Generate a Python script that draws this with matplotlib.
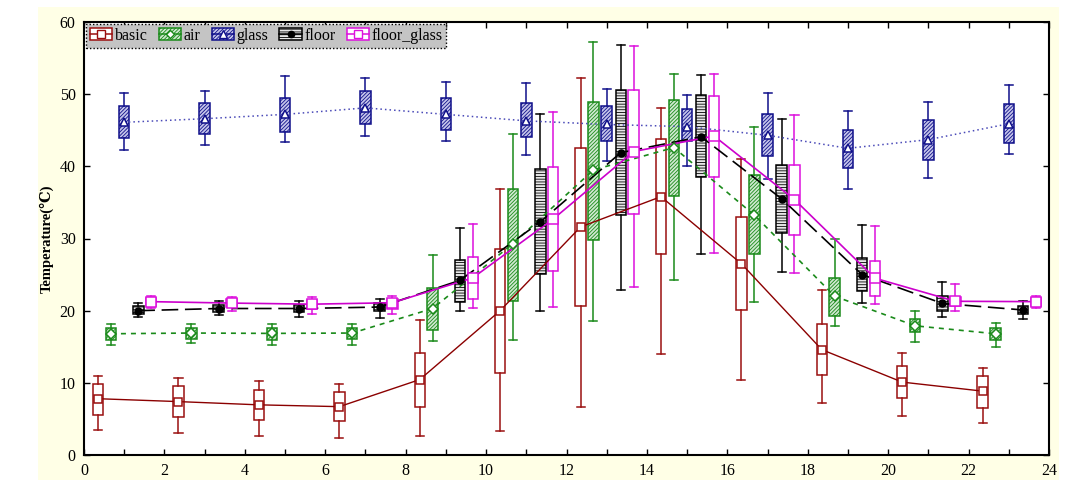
import matplotlib
matplotlib.use("Agg")
import matplotlib.pyplot as plt
from matplotlib.patches import Rectangle, Patch
from matplotlib.lines import Line2D
from matplotlib.legend_handler import HandlerTuple
from matplotlib.ticker import MultipleLocator
import numpy as np

plt.rcParams["hatch.linewidth"] = 0.6

hours = [0, 2, 4, 6, 8, 10, 12, 14, 16, 18, 20, 22]
series_names = ["basic", "air", "glass", "floor", "floor_glass"]

basic_mean = [7.8, 7.4, 6.95, 6.7, 10.45, 20.0, 31.6, 35.8, 26.5, 14.6, 10.1, 8.85]
basic_q3 = [9.8, 9.5, 9.0, 8.75, 14.2, 28.5, 42.5, 43.8, 32.95, 18.2, 12.35, 10.9]
basic_q1 = [5.5, 5.25, 4.9, 4.75, 6.7, 11.3, 20.7, 27.8, 20.1, 11.1, 7.9, 6.45]
basic_hi = [10.9, 10.7, 10.2, 9.9, 18.7, 36.9, 52.2, 48.1, 41.0, 22.8, 14.2, 12.0]
basic_lo = [3.4, 3.0, 2.6, 2.3, 2.6, 3.3, 6.6, 14.0, 10.4, 7.2, 5.35, 4.5]

air_mean = [16.8, 16.9, 16.85, 16.9, 20.3, 29.3, 39.5, 42.6, 33.25, 22.0, 17.9, 16.8]
air_q3 = [17.55, 17.6, 17.6, 17.6, 23.1, 36.8, 48.9, 49.25, 38.8, 24.5, 18.85, 17.65]
air_q1 = [16.0, 16.1, 16.0, 16.1, 17.3, 21.3, 29.8, 35.9, 27.9, 19.2, 17.0, 15.9]
air_hi = [18.15, 18.2, 18.2, 18.2, 27.7, 44.45, 57.2, 52.75, 45.4, 30.0, 19.95, 18.35]
air_lo = [15.3, 15.5, 15.3, 15.2, 15.8, 15.9, 18.6, 24.3, 21.2, 17.9, 15.6, 14.9]

glass_mean = [46.1, 46.6, 47.2, 48.1, 47.2, 46.3, 45.8, 45.5, 44.3, 42.5, 43.7, 45.9]
glass_q3 = [48.3, 48.75, 49.4, 50.4, 49.4, 48.8, 48.3, 47.9, 47.2, 45.1, 46.4, 48.7]
glass_q1 = [43.9, 44.45, 44.8, 45.9, 45.0, 44.0, 43.5, 43.5, 41.5, 39.7, 40.9, 43.2]
glass_hi = [50.1, 50.45, 52.5, 52.3, 51.65, 51.55, 50.7, 49.9, 50.2, 47.6, 48.9, 51.3]
glass_lo = [42.2, 43.0, 43.4, 44.2, 43.5, 41.6, 40.8, 40.0, 38.3, 36.9, 38.4, 41.7]

floor_mean = [20.0, 20.3, 20.3, 20.5, 24.2, 32.3, 41.9, 44.1, 35.5, 25.0, 21.0, 20.1]
floor_q3 = [20.6, 20.8, 20.8, 21.0, 27.0, 39.6, 50.55, 49.85, 40.2, 27.3, 22.0, 20.65]
floor_q1 = [19.6, 19.8, 19.8, 19.95, 21.2, 25.05, 33.2, 38.5, 30.7, 22.7, 19.95, 19.5]
floor_hi = [21.05, 21.3, 21.3, 21.65, 31.4, 47.3, 56.8, 52.7, 46.5, 31.9, 23.95, 21.4]
floor_lo = [19.1, 19.4, 19.1, 19.0, 19.9, 20.0, 22.85, 27.9, 25.4, 21.1, 19.1, 18.8]

fg_mean = [21.25, 21.05, 20.9, 21.1, 24.55, 32.7, 42.05, 44.2, 35.4, 24.5, 21.3, 21.25]
fg_q3 = [21.8, 21.6, 21.5, 21.6, 27.4, 39.95, 50.55, 49.8, 40.2, 26.9, 21.9, 21.75]
fg_q1 = [20.65, 20.5, 20.2, 20.3, 21.65, 25.5, 33.45, 38.5, 30.45, 22.1, 20.6, 20.65]
fg_hi = [22.1, 21.9, 21.9, 22.1, 32.0, 47.5, 56.7, 52.85, 47.1, 31.7, 23.7, 22.1]
fg_lo = [20.4, 19.95, 19.5, 19.6, 20.4, 20.5, 23.3, 28.05, 25.25, 20.9, 19.95, 20.4]

data = {
    "basic": (basic_mean, basic_q1, basic_q3, basic_lo, basic_hi),
    "air": (air_mean, air_q1, air_q3, air_lo, air_hi),
    "glass": (glass_mean, glass_q1, glass_q3, glass_lo, glass_hi),
    "floor": (floor_mean, floor_q1, floor_q3, floor_lo, floor_hi),
    "floor_glass": (fg_mean, fg_q1, fg_q3, fg_lo, fg_hi),
}

styles = {
    "basic": dict(off=0.35, ec="#9a0f0f", fc="white", hatch=None, lc="#8b0000",
                  ls="-", lw=1.0, marker="s", ms=6, mfc="white", mec="#9a0f0f"),
    "air": dict(off=0.67, ec="#1a8a1a", fc="#cfe9cf", hatch="/////////", lc="#1a8a1a",
                ls=(0, (3, 3)), lw=1.2, marker="D", ms=5, mfc="white", mec="#1a8a1a"),
    "glass": dict(off=1.0, ec="#10108a", fc="#c4c4ea", hatch="/////////", lc="#4a4ab8",
                  ls=(0, (1, 2)), lw=1.1, marker="^", ms=6, mfc="white", mec="#10108a"),
    "floor": dict(off=1.35, ec="black", fc="#e8e8e8", hatch="------", lc="black",
                  ls=(0, (10, 4)), lw=1.2, marker="o", ms=5, mfc="black", mec="black"),
    "floor_glass": dict(off=1.67, ec="#dd10dd", fc="white", hatch=None, lc="#cc00cc",
                        ls="-", lw=1.2, marker="s", ms=7, mfc="white", mec="#dd10dd"),
}

fig = plt.figure(figsize=(10.74, 4.88), dpi=100, facecolor="white")
bg = Rectangle((38 / 1074, 1 - 480 / 488), (1059 - 38) / 1074, (480 - 7) / 488,
               transform=fig.transFigure, facecolor="#FFFFE6", edgecolor="none", zorder=-10)
fig.add_artist(bg)
ax = fig.add_axes([84 / 1074, 1 - 455 / 488, (1049 - 84) / 1074, (455 - 22) / 488])
ax.set_facecolor("white")
ax.set_zorder(1)

handles = []
for name in series_names:
    m, q1, q3, lo, hi = data[name]
    st = styles[name]
    pos = [h + st["off"] for h in hours]
    stats = [dict(med=m[i], q1=q1[i], q3=q3[i], whislo=lo[i], whishi=hi[i], fliers=[])
             for i in range(len(hours))]
    bp = ax.bxp(stats, positions=pos, widths=0.26, patch_artist=True, showfliers=False,
                manage_ticks=False, capwidths=0.2,
                boxprops=dict(facecolor=st["fc"], edgecolor=st["ec"], linewidth=1.1),
                whiskerprops=dict(color=st["ec"], linewidth=1.1),
                capprops=dict(color=st["ec"], linewidth=1.1),
                medianprops=dict(linewidth=0))
    for b in bp["boxes"]:
        if st["hatch"]:
            b.set_hatch(st["hatch"])
        b.set_zorder(2)
    ax.plot(pos, m, color=st["lc"], linestyle=st["ls"], linewidth=st["lw"], zorder=3)
    ax.plot(pos, m, linestyle="none", marker=st["marker"], markersize=st["ms"],
            markerfacecolor=st["mfc"], markeredgecolor=st["mec"], markeredgewidth=1.1, zorder=4)
    patch = Patch(facecolor=st["fc"], edgecolor=st["ec"], hatch=st["hatch"], linewidth=1.1)
    line = Line2D([0], [0], color=st["ec"], linewidth=1.1, marker=st["marker"],
                  markersize=st["ms"] * 0.9, markerfacecolor=st["mfc"], markeredgecolor=st["mec"])
    handles.append((patch, line))

ax.set_xlim(0, 24)
ax.set_ylim(0, 60)
ax.xaxis.set_major_locator(MultipleLocator(2))
ax.xaxis.set_minor_locator(MultipleLocator(1))
ax.yaxis.set_major_locator(MultipleLocator(10))
ax.tick_params(axis="both", which="both", direction="in", top=True, right=True,
               width=1.0, color="black")
ax.tick_params(axis="both", which="major", length=4, labelsize=11.5, pad=6)
ax.tick_params(axis="both", which="minor", length=4)
for lab in ax.get_xticklabels() + ax.get_yticklabels():
    lab.set_family("Liberation Serif")
for sp in ax.spines.values():
    sp.set_linewidth(1.5)
    sp.set_color("black")

ax.set_ylabel("Temperature(℃)", family=["Liberation Serif", "DejaVu Serif", "Noto Sans CJK SC"],
              fontsize=10.5, fontweight="bold", labelpad=4)

leg = ax.legend(handles, series_names, handler_map={tuple: HandlerTuple(ndivide=1)},
                loc="upper left", bbox_to_anchor=(0.0, 1.0), ncol=5, frameon=True,
                fancybox=False, framealpha=1.0, facecolor="#c4c4c4", edgecolor="black",
                prop=dict(family="Liberation Serif", size=11.5), handlelength=1.4,
                handleheight=0.8, handletextpad=0.15, columnspacing=0.7, borderpad=0.25,
                borderaxespad=0.12)
leg.get_frame().set_linestyle((0, (1, 1.5)))
leg.get_frame().set_linewidth(1.0)

fig.savefig("out.png", dpi=100, facecolor="white")
